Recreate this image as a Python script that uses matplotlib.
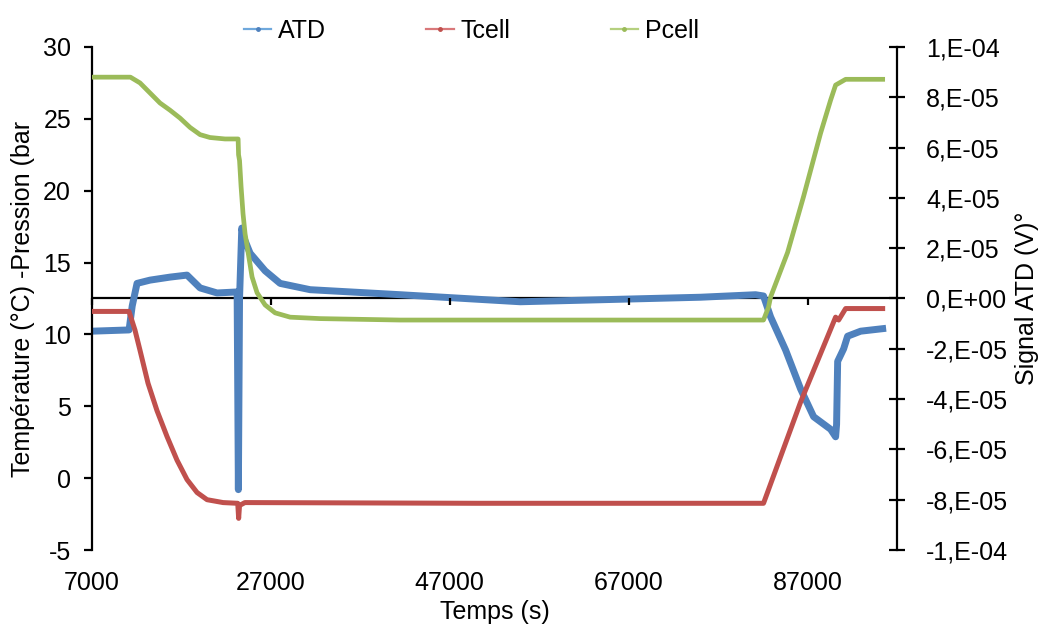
import matplotlib
matplotlib.use("Agg")
import matplotlib.pyplot as plt
from matplotlib.lines import Line2D

plt.rcParams['font.family'] = ['Liberation Sans', 'DejaVu Sans']
plt.rcParams['axes.unicode_minus'] = False

# Pcell (bar), left axis
t_p = [7000, 11300, 12370, 13490, 14610, 15730, 16850, 17970, 19090, 20200, 21880, 23340,
       23390, 23500, 23670, 23890, 24120, 24460, 24900, 25460, 26360, 27480, 29160, 32510,
       41470, 54890, 82080, 82640, 82870, 84770, 86560, 88460, 89580, 90140, 91260, 95400]
pcell = [27.9, 27.9, 27.5, 26.8, 26.1, 25.6, 25.05, 24.4, 23.9, 23.7, 23.6, 23.6,
         22.5, 22.1, 20.3, 18.4, 17.0, 15.7, 14.0, 12.9, 12.05, 11.5, 11.2, 11.1,
         11.0, 11.0, 11.0, 11.9, 12.6, 15.7, 19.6, 24.0, 26.3, 27.35, 27.75, 27.75]

# Tcell (degC), left axis
t_t = [7000, 11140, 11810, 12370, 13270, 14270, 15390, 16510, 17630, 18750, 19870, 21660,
       23300, 23400, 23500, 24100, 50000, 82080, 86230, 90140, 90480, 91260, 95400]
tcell = [11.6, 11.6, 10.3, 8.9, 6.6, 4.7, 2.9, 1.25, -0.1, -1.0, -1.5, -1.7,
         -1.75, -2.8, -1.9, -1.7, -1.75, -1.75, 5.3, 11.2, 11.0, 11.8, 11.8]

# ATD signal (V), right axis, in 1e-5
t_a = [7000, 11150, 11500, 12040, 13490, 15730, 17630, 19090, 20990, 23230,
       23370, 23500, 23750, 24000, 24680, 26360, 28040, 31390, 41470, 54890, 63850,
       75040, 81190, 82080, 82870, 84550, 86230, 87680, 89580, 90140, 90250, 90370, 91040,
       91480, 92940, 95400]
atd = [-1.3, -1.25, -0.3, 0.6, 0.73, 0.85, 0.93, 0.42, 0.22, 0.26,
       -7.6, 0.0, 2.8, 2.4, 1.8, 1.1, 0.6, 0.35, 0.15, -0.13, -0.05,
       0.05, 0.15, 0.1, -0.73, -2.05, -3.6, -4.7, -5.2, -5.5, -5.0, -2.5, -2.0,
       -1.5, -1.3, -1.2]
atd = [v * 1e-5 for v in atd]

x_ticks = [7000, 27000, 47000, 67000, 87000]
r_ticks = [-1e-4, -8e-5, -6e-5, -4e-5, -2e-5, 0, 2e-5, 4e-5, 6e-5, 8e-5, 1e-4]
r_labels = ["-1,E-04", "-8,E-05", "-6,E-05", "-4,E-05", "-2,E-05", "0,E+00",
            "2,E-05", "4,E-05", "6,E-05", "8,E-05", "1,E-04"]

c_blue = '#4F81BD'
c_red = '#C0504D'
c_green = '#9BBB59'

fig = plt.figure(figsize=(10.39, 6.28), dpi=100)
ax = fig.add_axes([0.0885, 0.1242, 0.7748, 0.801])
ax2 = ax.twinx()
ax.set_zorder(ax2.get_zorder() + 1)
ax.patch.set_visible(False)

ax2.axhline(0, color='black', lw=1.6, zorder=1)
ax2.plot(t_a, atd, color=c_blue, lw=5, zorder=3, solid_joinstyle='round')
ax.plot(t_t, tcell, color=c_red, lw=3.6, zorder=3)
ax.plot(t_p, pcell, color=c_green, lw=3.4, zorder=3)

ax.set_xlim(7000, 97000)
ax.set_ylim(-5, 30)
ax2.set_ylim(-1e-4, 1e-4)

for s in ['top', 'right']:
    ax.spines[s].set_visible(False)
ax.spines['bottom'].set_position(('data', 12.5))
ax.spines['bottom'].set_visible(False)
for s in ['top', 'left', 'bottom']:
    ax2.spines[s].set_visible(False)
ax.spines['left'].set_linewidth(1.6)
ax2.spines['right'].set_linewidth(1.6)

ax.set_xticks(x_ticks)
ax.tick_params(axis='x', direction='out', length=5, width=1.6, labelbottom=False)
ax.set_yticks(range(-5, 31, 5))
ax.tick_params(axis='y', direction='out', length=6, width=1.6, labelsize=18, pad=9)
ax2.set_yticks(r_ticks)
ax2.set_yticklabels(r_labels)
ax2.tick_params(axis='y', direction='inout', length=12, width=1.6, labelsize=18, pad=15)

sec = ax.secondary_xaxis('bottom')
sec.set_xticks(x_ticks)
sec.spines['bottom'].set_visible(False)
sec.tick_params(length=0, labelsize=18, pad=15)
sec.set_xlabel("Temps (s)", fontsize=18, labelpad=4)

ax.set_ylabel("Température (°C) -Pression (bar", fontsize=18, labelpad=6)
ax2.set_ylabel("Signal ATD (V)°", fontsize=18, labelpad=5)

handles = [Line2D([], [], color='#6FA8DC', lw=1.6, marker='o', ms=2.5, mfc=c_blue, mec=c_blue),
           Line2D([], [], color='#D9787A', lw=1.6, marker='o', ms=2.5, mfc=c_red, mec=c_red),
           Line2D([], [], color='#B5D07F', lw=1.6, marker='o', ms=2.5, mfc=c_green, mec=c_green)]
fig.legend(handles, ["ATD", "Tcell", "Pcell"], ncol=3, loc='center',
           bbox_to_anchor=(0.4538, 0.951), frameon=False, fontsize=18,
           handlelength=1.1, handletextpad=0.28, columnspacing=4.0)

fig.savefig("out.png", dpi=100)
